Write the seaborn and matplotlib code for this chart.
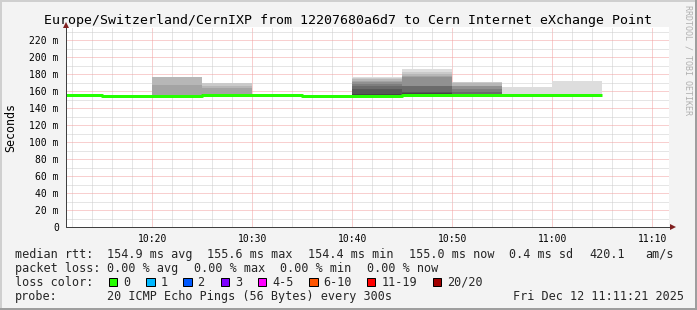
import matplotlib
matplotlib.use("Agg")
import matplotlib.pyplot as plt
from matplotlib.patches import Rectangle
from matplotlib.lines import Line2D
import seaborn as sns
import pandas as pd

# ---------------- data ----------------
title = "Europe/Switzerland/CernIXP from 12207680a6d7 to Cern Internet eXchange Point"
slot_start = ["10:10", "10:15", "10:20", "10:25", "10:30", "10:35",
              "10:40", "10:45", "10:50", "10:55", "11:00"]
slot_len_min = 5
median_ms = [155.6, 154.7, 154.7, 155.5, 155.5, 154.6, 154.7, 155.6, 155.3, 155.3, 155.1]
min_ms = [155.0, 154.2, 154.2, 155.0, 155.0, 154.1, 154.2, 155.1, 154.8, 154.8, 154.6]
# upper pings per slot (max first, down towards the median), only slots with smoke
smoke_hi = {
    "10:20": [176.5, 176.5, 176.5, 167.3, 156.0, 156.0, 156.0, 156.0, 156.0, 156.0],
    "10:25": [169.5, 169.5, 166.5, 163.5, 156.5, 156.5, 156.5, 156.5, 156.5, 156.5],
    "10:40": [176.6, 175.5, 174.4, 172.4, 170.4, 168.4, 165.7, 162.6, 156.5, 156.0],
    "10:45": [186.0, 183.0, 180.1, 178.5, 177.4, 166.4, 166.4, 158.7, 157.5, 157.0],
    "10:50": [171.5, 171.0, 169.6, 166.4, 166.4, 162.5, 159.4, 157.0, 156.5, 156.0],
    "10:55": [165.5, 156.5, 156.5, 156.5, 156.5, 156.5, 156.5, 156.5, 156.5, 156.5],
    "11:00": [172.5, 156.5, 156.5, 156.5, 156.5, 156.5, 156.5, 156.5, 156.5, 156.5],
}
x_tick_labels = ["10:20", "10:30", "10:40", "10:50", "11:00", "11:10"]
y_ticks = [0, 20, 40, 60, 80, 100, 120, 140, 160, 180, 200, 220]
view_start = "10:11:22"
view_end = "11:11:40"

row_rtt = [("median rtt:", 16), ("154.9 ms avg", 107.7), ("155.6 ms max", 208.0),
           ("154.4 ms min", 308.8), ("155.0 ms now", 409.7), ("0.4 ms sd", 509.4),
           ("420.1", 590.0), ("am/s", 645.6)]
row_loss = [("packet loss:", 16), ("0.00 % avg", 107.7), ("0.00 % max", 194.8),
            ("0.00 % min", 280.6), ("0.00 % now", 367.3)]
loss_labels = ["0", "1", "2", "3", "4-5", "6-10", "11-19", "20/20"]
loss_colors = ["#26ff00", "#00b8ff", "#0059ff", "#7e00ff", "#ff00ff", "#ff5500", "#ff0000", "#a10000"]
loss_box_x = [108.6, 146.0, 183.0, 220.7, 257.8, 309.0, 367.0, 432.5]
row_probe = [("probe:", 16), ("20 ICMP Echo Pings (56 Bytes) every 300s", 107.7)]
date_text = "Fri Dec 12 11:11:21 2025"

# smokeping grey shades, outermost band first
smoke_shades = ["#dddddd", "#cacaca", "#b7b7b7", "#a4a4a4", "#919191",
                "#7e7e7e", "#6b6b6b", "#585858", "#454545", "#323232"]

# ---------------- helpers ----------------
W, H = 697, 310


def to_min(s):
    parts = [int(p) for p in s.split(":")]
    m = (parts[0] - 10) * 60 + parts[1]
    if len(parts) > 2:
        m += parts[2] / 60.0
    return m


def fx(x):
    return x / W


def fy(y):
    return 1 - y / H


sns.set_theme(style="white")
mono = ["DejaVu Sans Mono", "DejaVu Sans"]
plt.rcParams["font.family"] = mono

fig = plt.figure(figsize=(W / 100, H / 100), dpi=100, facecolor="#f3f3f3")

# plot area in pixels: x 66..669, y 27..227.3
ax = fig.add_axes([fx(66), fy(227.3), (669 - 66) / W, (227.3 - 27) / H])
ax.set_facecolor("white")
x0, x1 = to_min(view_start), to_min(view_end)
ax.set_xlim(x0, x1)
ax.set_ylim(0, (227.3 - 27) / 0.85)

# grid
major_x = [to_min(t) for t in x_tick_labels]
minor_x = list(range(12, 72, 2))
minor_y = list(range(10, 240, 10))
ax.set_xticks(major_x, x_tick_labels)
ax.set_xticks(minor_x, minor=True)
ax.set_yticks(y_ticks, [("%d m" % v) if v else "0" for v in y_ticks])
ax.set_yticks(minor_y, minor=True)
ax.set_axisbelow(True)
ax.grid(which="minor", color="#cdcdcd", linewidth=0.72, linestyle=(0, (1, 1)))
ax.grid(which="major", color="#f2a0a0", linewidth=0.72, linestyle=(0, (1, 1)))
ax.tick_params(which="major", length=2, width=0.72, color="#f2a0a0", labelsize=7,
               labelcolor="black")
ax.tick_params(which="minor", length=2, width=0.72, color="#cdcdcd")
ax.tick_params(axis="y", which="major", pad=3.2)
ax.tick_params(axis="x", which="major", pad=2.5)
for sp in ax.spines.values():
    sp.set_visible(False)

# smoke
for band in range(10):
    xs, bottoms, heights = [], [], []
    for i, s in enumerate(slot_start):
        if s in smoke_hi:
            top = smoke_hi[s][band]
            if top > min_ms[i]:
                xs.append(to_min(s))
                bottoms.append(min_ms[i])
                heights.append(top - min_ms[i])
    if xs:
        ax.bar(xs, heights, bottom=bottoms, width=slot_len_min, align="edge",
               color=smoke_shades[band], linewidth=0, zorder=2)

# median line (step)
t_edges = [to_min(s) for s in slot_start] + [to_min(slot_start[-1]) + slot_len_min]
df = pd.DataFrame({"t": t_edges, "median": median_ms + [median_ms[-1]]})
sns.lineplot(data=df, x="t", y="median", drawstyle="steps-post", color="#26ff00",
             linewidth=2.16, ax=ax, zorder=3, solid_capstyle="butt")
ax.set_xlabel("")
ax.set_ylabel("")

# axes lines with arrows
axis_col = "#404040"
arrow_col = "#7f1f1f"
ax.add_line(Line2D([0, 1 + 4 / 603], [0, 0], transform=ax.transAxes, color=axis_col,
                   linewidth=0.72, clip_on=False, zorder=5))
ax.add_line(Line2D([0, 0], [0, 1 + 2 / 200.3], transform=ax.transAxes, color=axis_col,
                   linewidth=0.72, clip_on=False, zorder=5))
ax.plot([1 + 4 / 603], [0], marker=">", markersize=4.3, color=arrow_col,
        transform=ax.transAxes, clip_on=False, zorder=6, markeredgewidth=0)
ax.plot([0], [1 + 2.5 / 200.3], marker="^", markersize=4.3, color=arrow_col,
        transform=ax.transAxes, clip_on=False, zorder=6, markeredgewidth=0)

# texts
fig.text(0.5, fy(24), title, ha="center", va="baseline", fontsize=9.55, color="black")
fig.text(fx(10.5), fy(127), "Seconds", rotation=90, ha="center", va="center",
         fontsize=8.4, color="black")
fig.text(fx(688), fy(5), "RRDTOOL / TOBI OETIKER", rotation=270, ha="center", va="top",
         fontsize=6, color="#b0b0b0")

leg_fs = 8.5
for txt, x in row_rtt:
    fig.text(fx(x - 0.7), fy(257.7), txt, ha="left", va="baseline", fontsize=leg_fs)
for txt, x in row_loss:
    fig.text(fx(x - 0.7), fy(271.9), txt, ha="left", va="baseline", fontsize=leg_fs)
fig.text(fx(16 - 0.7), fy(285.9), "loss color:", ha="left", va="baseline", fontsize=leg_fs)
for lab, col, bx in zip(loss_labels, loss_colors, loss_box_x):
    fig.add_artist(Rectangle((fx(bx), fy(286)), 8.5 / W, 8.5 / H, transform=fig.transFigure,
                             facecolor=col, edgecolor="black", linewidth=0.72))
    fig.text(fx(bx + 15 - 0.7), fy(285.9), lab, ha="left", va="baseline", fontsize=leg_fs)
for txt, x in row_probe:
    fig.text(fx(x - 0.7), fy(299.8), txt, ha="left", va="baseline", fontsize=leg_fs)
fig.text(fx(684), fy(299.8), date_text, ha="right", va="baseline", fontsize=leg_fs)

# frame (3d style)
fig.add_artist(Line2D([0, 1], [1 - 1 / H, 1 - 1 / H], transform=fig.transFigure,
                      color="#cfcfcf", linewidth=1.44))
fig.add_artist(Line2D([1 / W, 1 / W], [0, 1], transform=fig.transFigure,
                      color="#cfcfcf", linewidth=1.44))
fig.add_artist(Line2D([0, 1], [1 / H, 1 / H], transform=fig.transFigure,
                      color="#9e9e9e", linewidth=1.44))
fig.add_artist(Line2D([1 - 1 / W, 1 - 1 / W], [0, 1], transform=fig.transFigure,
                      color="#9e9e9e", linewidth=1.44))

fig.savefig("out.png", dpi=100, facecolor=fig.get_facecolor())
